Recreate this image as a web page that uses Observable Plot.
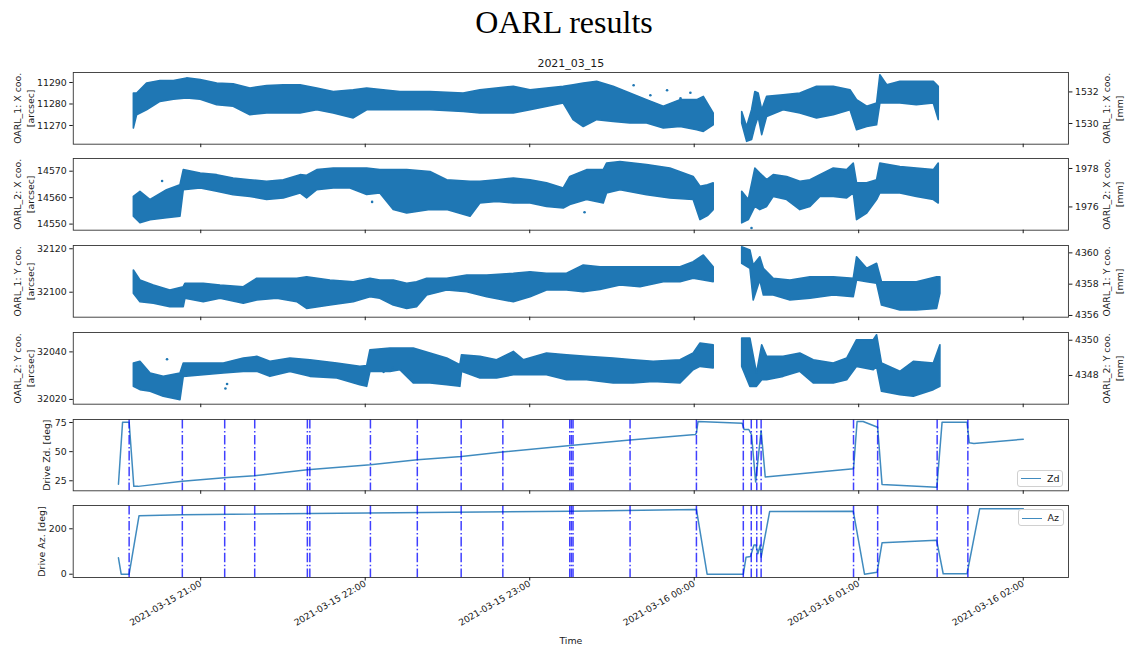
<!DOCTYPE html>
<html><head><meta charset="utf-8">
<script src="https://cdn.jsdelivr.net/npm/d3@7"></script>
<script src="https://cdn.jsdelivr.net/npm/@observablehq/plot@0.6"></script>
<style>
body{margin:0;background:#fff;}
#fig{position:relative;width:1128px;height:649px;overflow:hidden;background:#fff;font-family:"DejaVu Sans",sans-serif;color:#1a1a1a}
#fig > svg{position:absolute;left:0;overflow:visible}
.title{position:absolute;left:0;width:1128px;text-align:center;font-family:"Liberation Serif",serif;font-size:32px;line-height:32px;top:6px;color:#000}
.leg{position:absolute;border:1px solid #d0d0d0;border-radius:3px;background:rgba(255,255,255,0.8);font-size:9.5px;box-sizing:border-box}
.leg .ln{position:absolute;height:0;border-top:1.5px solid rgba(31,119,180,0.85)}
.leg .tx{position:absolute;line-height:10px}
</style></head>
<body><div id="fig"><div class="title">OARL results</div></div>
<script>
// ---- time axis: minutes relative to 2021-03-15 21:00 UTC ----
const xDomainMin = [-46.5, 316.5];
const xTickMin = [0, 60, 120, 180, 240, 300];

// ---- OARL_1 X [arcsec] envelope of the scatter ----
const p1T  = [-24.4,-23.2,-19.6,-14.7,-9.8,-5.0,0,6.0,12.0,18.1,24.2,30.3,36.4,42.5,48.5,55.8,60.7,66.7,72.8,83.8,95.9,102.0,114.2,120.3,132.4,136.0,139.7,144.6,150.6,156.7,162.8,168.9,175.0,181.1,183.5,187.1,192,197.5,199.3,201.1,202.3,203.5,204.8,206.6,212.6,218.7,224.8,230.9,237.0,239.4,243.1,246.7,247.9,250.4,255.2,261.2,267.4,269.2];
const p1Lo = [11268.6,11274.8,11277.1,11281,11282,11282.6,11282,11279.4,11278.7,11274.8,11275.6,11275.6,11275.6,11277.1,11275.6,11273.3,11277.1,11277.1,11277.1,11277.1,11276.3,11275.6,11275.6,11277.1,11280.2,11272.5,11269.3,11272.5,11271.7,11270.9,11270.9,11268.6,11269.3,11267.8,11267,11270.1,null,11270.9,11262.4,11263.2,11269.3,11274,11265.5,11274,11277.1,11275.6,11273.3,11274.8,11277.1,11267.8,11269.3,11270.1,11280.2,11280.2,11280.2,11279.4,11280.2,11272.5];
const p1Hi = [11284.9,11284.9,11289.5,11290.7,11290.7,11291.9,11291.1,11289.5,11289.2,11287.2,11288.3,11288.7,11288.7,11287.2,11285.6,11286.4,11287.2,11286.4,11285.6,11285.6,11284.9,11286.4,11288,11286.4,11288,11288.7,11289.5,11290.3,11288,11284.9,11281.8,11278.7,11281.8,11281.8,11283.3,11275.6,null,11276.3,11269.3,11277.1,11285.6,11284.9,11277.1,11283.3,11284.1,11284.9,11288,11288,11286.4,11281.8,11278.7,11280.2,11293.4,11288.7,11290.3,11290.3,11290.3,11288];
const p1OutT = [157.9,164.0,170.1,175.0,178.6];
const p1OutV = [11288.7,11284.1,11286.4,11282.6,11285.2];

// ---- OARL_2 X [arcsec] ----
const p2T  = [-24.4,-22.0,-18.3,-12.3,-7.4,-6.2,0,6.0,12.0,18.1,24.2,30.3,36.4,38.8,42.5,48.5,54.6,60.7,65.5,70.4,75.3,83.8,89.9,98.4,102.0,108.1,114.2,120.3,126.3,132.4,134.8,140.9,147.0,148.2,153.1,162.8,171.3,179.8,182.3,185.0,187.1,192,197.5,199.9,202.3,204.1,206.6,209.0,213.9,218.7,222.4,226.0,230.9,235.8,238.2,239.4,243.1,246.7,247.9,255.2,261.2,267.4,269.2];
const p2Lo = [14552.8,14550.3,14551.5,14552.2,14552.8,14562.8,14563.5,14562.2,14560.9,14560.3,14559.1,14559.7,14561.6,14559.7,14562.8,14563.5,14563.5,14561,14561.6,14555.3,14554,14555.3,14555.3,14552.8,14557.8,14558.4,14557.8,14557.8,14556.5,14555.9,14557.2,14559.1,14557.8,14561.6,14562.8,14560.9,14559.7,14559.1,14551.5,14553,14555.3,null,14550.3,14551.5,14556.5,14555.3,14556.5,14560.3,14559.1,14555.3,14556.5,14560.3,14560.3,14559.7,14561.6,14551.5,14554,14559.1,14561.6,14561.6,14560.3,14559.1,14557.8];
const p2Hi = [14560.3,14562.2,14559.1,14562.8,14564.7,14570.4,14569.1,14568.5,14567.2,14566.6,14566,14566.6,14568.5,14568.3,14570.4,14571,14571,14571,14570.4,14570.4,14570.4,14569.7,14566.6,14566,14566,14566.6,14567.2,14566.6,14565.4,14563.5,14567.8,14570.4,14570.4,14572.9,14573.5,14572.3,14571,14567.8,14564.1,14564.7,14565.4,null,14562.2,14559.1,14571,14569.1,14566.6,14568.5,14567.8,14566,14566.6,14568.5,14571,14570.4,14572.9,14565.4,14565.4,14566.6,14572.9,14571.6,14571,14570.4,14572.9];
const p2OutT = [-14.1,62.5,140.0,200.9];
const p2OutV = [14566.3,14558.4,14554.5,14548.5];

// ---- OARL_1 Y [arcsec] ----
const p3T  = [-24.4,-22.0,-17.1,-11.1,-6.2,-5.6,1.1,7.2,15.7,20.6,27.9,35.2,38.8,47.3,55.8,61.9,65.5,70.4,75.3,78.9,82.6,89.9,97.2,104.5,114.2,120.3,126.3,133.6,139.7,145.8,153.1,160.4,168.9,175.0,179.8,183.5,187.1,192,197.5,200.5,201.7,204.1,205.4,209.0,215.1,222.4,230.9,238.2,239.4,243.1,246.7,248.5,255.2,261.2,268.6,269.8];
const p3Lo = [32099.3,32095.4,32094.7,32093.1,32093.1,32097,32095.4,32097,32094.7,32096.2,32097,32095.4,32092.3,32093.9,32095.4,32097.7,32097,32093.9,32092.3,32093.1,32098.5,32100.8,32100,32097.7,32095.4,32097.7,32100.8,32100.8,32100,32101,32103.1,32102.3,32104.6,32104.6,32106.2,32105.4,32104.6,null,32113.1,32110.8,32096.2,32105.4,32098.5,32098.5,32096.2,32097,32098.5,32097.7,32105.4,32104.6,32103.9,32093.9,32091.6,32091.6,32092.3,32099.3];
const p3Hi = [32110,32105.4,32103.1,32100.8,32102.3,32103.9,32103.9,32103.1,32102.3,32106.2,32106.2,32106.2,32106.9,32105.4,32104.6,32106.2,32105.4,32105.4,32103.9,32104.6,32106.2,32106.2,32107.7,32107.7,32108.5,32109.2,32108.5,32108.5,32112.3,32111.5,32111.5,32111.5,32111.5,32111.5,32113.8,32116.9,32111.5,null,32120.7,32119.2,32112.3,32116.1,32110.8,32106.2,32105.4,32106.9,32106.9,32106.2,32116.1,32110.8,32113.1,32104.6,32104.6,32104.6,32106.9,32106.9];

// ---- OARL_2 Y [arcsec] ----
const p4T  = [-24.4,-22.0,-18.3,-13.5,-7.4,-6.2,1.1,8.4,15.7,20.6,25.4,32.7,40.0,49.8,58.2,60.7,61.9,69.2,72.8,77.7,83.8,89.9,94.7,95.3,102.0,108.1,114.2,117.8,126.3,133.6,140.9,150.6,157.9,165.2,175.0,179.8,182.3,187.1,192,197.5,200.5,202.9,204.8,206.6,212.6,218.7,223.6,230.9,235.8,239.4,245.5,246.7,248.5,255.2,260.1,267.4,269.8];
const p4Lo = [32025.3,32023.9,32023.2,32021.1,32019.7,32029.5,32030.2,32030.9,32031.6,32031.6,32029.5,32031.6,32029.5,32028.8,32026,32025.3,32031.6,32031.6,32032.3,32026.7,32026.7,32026,32025.3,32031.6,32028.8,32028.8,32030.2,32030.2,32030.2,32028.1,32028.1,32026.7,32026.7,32027.4,32026.7,32032.3,32033.7,32033,null,32033.7,32025.3,32025.3,32028.1,32028.1,32029.5,32031.6,32026.7,32026.7,32028.1,32033.7,32032.3,32033.7,32023.2,32021.8,32021.1,32023.9,32025.3];
const p4Hi = [32035.1,32035.8,32030.9,32029.5,32030.9,32035.1,32035.1,32035.1,32037.2,32037.9,32035.8,32037.2,32036.5,32035.1,32033.7,32034,32040.7,32041.4,32041.4,32041.4,32039.3,32037.2,32034.4,32038.6,32037.9,32036.5,32040,32036.5,32039.3,32038.6,32037.9,32037.2,32036.5,32035.8,32036.5,32039.3,32043.5,32042.8,null,32045.6,32045.6,32030.9,32042.8,32037.9,32037.9,32039.3,32036.5,32035.1,32037.2,32044.9,32044.9,32047,32035.1,32031.6,32035.8,32035.1,32042.8];
const p4OutT = [-12.3,9.0,9.6,66.7,70.0];
const p4OutV = [32036.9,32024.6,32026.5,32031.6,32033.5];

// ---- Drive Zd and Az [deg] ----
const zdT = [-30,-28.5,-26.1,-24.4,-22.8,-6.7,8.6,19.6,38.9,61.9,79.0,95.1,110.0,134.8,156.6,180.4,180.8,181.4,197.5,198.2,199.9,200.9,202.4,204.4,205.9,238.1,239.4,241.6,246.9,248.5,268.5,270.4,279.5,280.3,282.0,300];
const zdV = [22,75.3,75.3,20.2,20.2,24.5,27.6,29.4,34.5,38.8,43,45.9,49.6,55.3,59.9,64.7,66.2,75.9,74.4,69,69,64.5,23.9,68.2,28.2,35.4,75.9,75.9,71,21.9,19.4,75.3,75.3,57.6,57,60.7];
const azT = [-30,-29,-26.1,-22.5,-6.7,134.8,180.8,184.7,197.9,198.9,200.5,201.8,202.5,203.2,204.1,204.4,207.5,238.0,242.1,246.7,248.5,268.4,270.8,279.5,284.1,300];
const azV = [72,0,0,257,261.7,277.5,285,0,0,75,78,129,129,90,129,75,276,277.5,0,9,138,150,2,2,288,288];

// ---- vertical markers (minutes rel. 21:00) ----
const vlineT = [-26.1,-6.7,8.75,19.7,38.9,39.8,61.9,79.0,95.0,110.2,134.6,135.2,135.8,156.6,180.8,197.9,200.8,202.8,204.4,238.1,246.9,268.6,279.8];

// ---- axis limits and ticks ----
const p1Dom = [11261.3, 11294.65], p1Ticks = [11270, 11280, 11290];
const p1mmDom = [1528.69, 1533.23], p1mmTicks = [1530, 1532];
const p2Dom = [14547.7, 14574.8], p2Ticks = [14550, 14560, 14570];
const p2mmDom = [1974.79, 1978.52], p2mmTicks = [1976, 1978];
const p3Dom = [32088.5, 32121.5], p3Ticks = [32100, 32120];
const p3mmDom = [4355.89, 4360.47], p3mmTicks = [4356, 4358, 4360];
const p4Dom = [32018.0, 32048.15], p4Ticks = [32020, 32040];
const p4mmDom = [4346.37, 4350.44], p4mmTicks = [4348, 4350];
const zdDom = [16.4, 77.6], zdTicks = [25, 50, 75];
const azDom = [-14.5, 302.6], azTicks = [0, 200];

// ---------------------------------------------------------------
const T0 = Date.UTC(2021, 2, 15, 21, 0, 0);
const toDate = m => new Date(T0 + m * 60000);
const W = 1128, ML = 72.7, MR = 1128 - 1068, PAD = 5;
const FONT = "DejaVu Sans";
const BLUE = "#1f77b4";
const TICKFS = "9.4px", LABFS = 9.4;
const fig = document.getElementById("fig");
const xDom = xDomainMin.map(toDate);
const xTicks = xTickMin.map(toDate);

function areaMarks(T, Lo, Hi) {
  const idx = d3.range(T.length);
  return [Plot.areaY(idx, {x: i => toDate(T[i]), y1: i => Lo[i], y2: i => Hi[i], fill: BLUE, stroke: BLUE, strokeWidth: 1.6})];
}
function dotMarks(T, V) {
  return Plot.dot(d3.range(T.length), {x: i => toDate(T[i]), y: i => V[i], r: 1.3, fill: BLUE, stroke: "none"});
}
function vlines() {
  return Plot.ruleX(vlineT, {x: d => toDate(d), stroke: "#0000ff", strokeOpacity: 0.75, strokeWidth: 1.5, strokeDasharray: "9.6,2.4,1.5,2.4"});
}

function addPanel({top, h, yDom, yTicks, marks, label, labelDx, bottom = false}) {
  const mb = bottom ? PAD + 75 : PAD;
  const axX = bottom
    ? Plot.axisX({ticks: xTicks, tickSize: 3.5, tickPadding: 2, tickRotate: -30, tickFormat: d3.utcFormat("%Y-%m-%d %H:%M"), label: null, fontSize: 9})
    : Plot.axisX({ticks: xTicks, tickSize: 3.5, fill: "none", label: null});
  const extra = bottom ? [Plot.text(["Time"], {text: d => d, frameAnchor: "bottom", dy: 66, fontSize: LABFS})] : [];
  const svg = Plot.plot({
    width: W, height: h + PAD + mb,
    marginLeft: ML, marginRight: MR, marginTop: PAD, marginBottom: mb,
    x: {type: "utc", domain: xDom, axis: null},
    y: {type: "linear", domain: yDom, axis: null},
    style: {background: "transparent", fontFamily: FONT, fontSize: TICKFS, color: "#1a1a1a", overflow: "visible"},
    marks: [
      ...marks,
      Plot.frame({stroke: "#333", strokeWidth: 0.9}),
      Plot.axisY({ticks: yTicks, tickFormat: "d", tickSize: 3.5, tickPadding: 3, label: null}),
      axX,
      Plot.text([label], {text: d => d, frameAnchor: "left", textAnchor: "middle", rotate: -90, dx: labelDx, lineHeight: 1.35, fontSize: LABFS})
    ].concat(extra)
  });
  svg.style.top = (top - PAD) + "px";
  fig.appendChild(svg);
  return svg;
}
function addRight({top, h, yDom, yTicks, label}) {
  const svg = Plot.plot({
    width: W, height: h + 2 * PAD,
    marginLeft: ML, marginRight: MR, marginTop: PAD, marginBottom: PAD,
    x: {type: "utc", domain: xDom, axis: null},
    y: {type: "linear", domain: yDom, axis: null},
    style: {background: "transparent", fontFamily: FONT, fontSize: TICKFS, color: "#1a1a1a", overflow: "visible"},
    marks: [
      Plot.axisY({anchor: "right", ticks: yTicks, tickFormat: "d", tickSize: 3.5, tickPadding: 3, label: null}),
      Plot.text([label], {text: d => d, frameAnchor: "right", textAnchor: "middle", rotate: -90, dx: 44, lineHeight: 1.35, fontSize: LABFS})
    ]
  });
  svg.style.top = (top - PAD) + "px";
  fig.appendChild(svg);
}

// Panel 1
addPanel({top: 72.3, h: 71.7, yDom: p1Dom, yTicks: p1Ticks,
  marks: [...areaMarks(p1T, p1Lo, p1Hi), dotMarks(p1OutT, p1OutV),
          Plot.text(["2021_03_15"], {text: d => d, frameAnchor: "top", dy: -6, lineAnchor: "bottom", fontSize: 11})],
  label: "OARL_1: X coo.\n[arcsec]", labelDx: -49.7});
addRight({top: 72.3, h: 71.7, yDom: p1mmDom, yTicks: p1mmTicks, label: "OARL_1: X coo.\n[mm]"});
// Panel 2
addPanel({top: 158.3, h: 71.7, yDom: p2Dom, yTicks: p2Ticks,
  marks: [...areaMarks(p2T, p2Lo, p2Hi), dotMarks(p2OutT, p2OutV)],
  label: "OARL_2: X coo.\n[arcsec]", labelDx: -49.7});
addRight({top: 158.3, h: 71.7, yDom: p2mmDom, yTicks: p2mmTicks, label: "OARL_2: X coo.\n[mm]"});
// Panel 3
addPanel({top: 245, h: 71.7, yDom: p3Dom, yTicks: p3Ticks,
  marks: [...areaMarks(p3T, p3Lo, p3Hi)],
  label: "OARL_1: Y coo.\n[arcsec]", labelDx: -49.7});
addRight({top: 245, h: 71.7, yDom: p3mmDom, yTicks: p3mmTicks, label: "OARL_1: Y coo.\n[mm]"});
// Panel 4
addPanel({top: 332.3, h: 71.7, yDom: p4Dom, yTicks: p4Ticks,
  marks: [...areaMarks(p4T, p4Lo, p4Hi), dotMarks(p4OutT, p4OutV)],
  label: "OARL_2: Y coo.\n[arcsec]", labelDx: -49.7});
addRight({top: 332.3, h: 71.7, yDom: p4mmDom, yTicks: p4mmTicks, label: "OARL_2: Y coo.\n[mm]"});
// Panel 5 (Zd)
addPanel({top: 419, h: 71.3, yDom: zdDom, yTicks: zdTicks,
  marks: [Plot.line(d3.range(zdT.length), {x: i => toDate(zdT[i]), y: i => zdV[i], stroke: BLUE, strokeWidth: 1.5, strokeOpacity: 0.85}), vlines()],
  label: "Drive Zd. [deg]", labelDx: -27});
// Panel 6 (Az)
addPanel({top: 505, h: 72, yDom: azDom, yTicks: azTicks,
  marks: [Plot.line(d3.range(azT.length), {x: i => toDate(azT[i]), y: i => azV[i], stroke: BLUE, strokeWidth: 1.5, strokeOpacity: 0.85}), vlines()],
  label: "Drive Az. [deg]", labelDx: -32.7, bottom: true});

// Legends
function legend(name, left, top) {
  const d = document.createElement("div");
  d.className = "leg";
  d.style.left = left + "px"; d.style.top = top + "px";
  d.style.width = "46px"; d.style.height = "17px";
  d.innerHTML = `<div class="ln" style="left:3px;top:7.5px;width:20px"></div><div class="tx" style="left:29px;top:3px">${name}</div>`;
  fig.appendChild(d);
}
legend("Zd", 1017, 469.5);
legend("Az", 1017.5, 509);
</script></body></html>
